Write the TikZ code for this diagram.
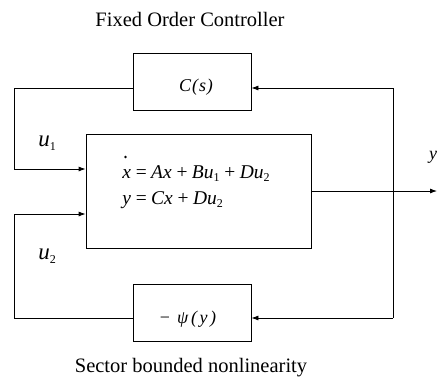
\documentclass[tikz,border=0pt]{standalone}
\usepackage{fontspec}
\setmainfont{Liberation Serif}
\usetikzlibrary{arrows.meta}
\newcommand\mysub[1]{\raisebox{-0.4ex}{\fontsize{12}{13}\selectfont #1}}
\newcommand\opsp[1]{\kern3.5pt#1\kern3.5pt}
\begin{document}
\begin{tikzpicture}[x=1pt,y=-1pt, line width=0.8pt,
  blk/.style={draw, inner sep=0pt},
  arr/.style={-{Latex[length=7pt,width=5pt]}},
  lbl/.style={font=\fontsize{20.5}{24}\selectfont, inner sep=0pt},
  eqf/.style={font=\fontsize{19.5}{22}\selectfont\itshape, inner sep=0pt}]
\useasboundingbox (0,0) rectangle (438,381);
% blocks
\node[blk, minimum width=118pt, minimum height=57pt] (cs) at (192,82) {};
\node[blk, minimum width=225pt, minimum height=114pt] (plant) at (198.5,191) {};
\node[blk, minimum width=118pt, minimum height=57pt] (psi) at (192,312.5) {};
% texts
\node[lbl, anchor=base] (title) at (190,26) {Fixed Order Controller};
\node[lbl, anchor=base] (sector) at (191,372) {Sector bounded nonlinearity};
\node[eqf, anchor=base, font=\fontsize{18}{21}\selectfont\itshape] (cst) at (196,91) {C\kern1pt(\kern1pt s\kern1pt)};
\node[eqf, anchor=base, font=\fontsize{18}{21}\selectfont\itshape] (psit) at (188,323) {\upshape −\kern7pt\itshape ψ\kern3pt(\kern2.5pt y\kern2.5pt)};
\node[eqf, font=\fontsize{23}{26}\selectfont\itshape] (u1) at (47,143) {u\mysub{\upshape 1}};
\node[eqf, font=\fontsize{23}{26}\selectfont\itshape] (u2) at (47,256) {u\mysub{\upshape 2}};
\node[eqf, font=\fontsize{18}{21}\selectfont\itshape] (yl) at (433,157) {y};
\node[eqf, anchor=base west] (eq1) at (122,178) {x\opsp{=}Ax\opsp{+}Bu\mysub{\upshape 1}\opsp{+}Du\mysub{\upshape 2}};
\node[eqf, anchor=base west] (eq2) at (122,204) {y\opsp{=}Cx\opsp{+}Du\mysub{\upshape 2}};
\fill (eq1.base west) ++(3.5,-21) circle (1.3pt);
% junction and corner points
\coordinate (j) at (393,191);
\coordinate (out) at (437,191);
\coordinate (rt) at (393,88);
\coordinate (rb) at (393,318);
\coordinate (lt) at (14,88);
\coordinate (lb) at (14,318);
\coordinate (in1) at (14,169);
\coordinate (in2) at (14,214);
% connectors
\draw[arr] (plant.east) -- (out);
\draw (j) -- (rt);
\draw (j) -- (rb);
\draw[arr] (rt) -- (rt -| cs.east);
\draw[arr] (rb) -- (rb -| psi.east);
\draw (lt -| cs.west) -- (lt) -- (in1);
\draw[arr] (in1) -- (in1 -| plant.west);
\draw (lb -| psi.west) -- (lb) -- (in2);
\draw[arr] (in2) -- (in2 -| plant.west);
\end{tikzpicture}
\end{document}
